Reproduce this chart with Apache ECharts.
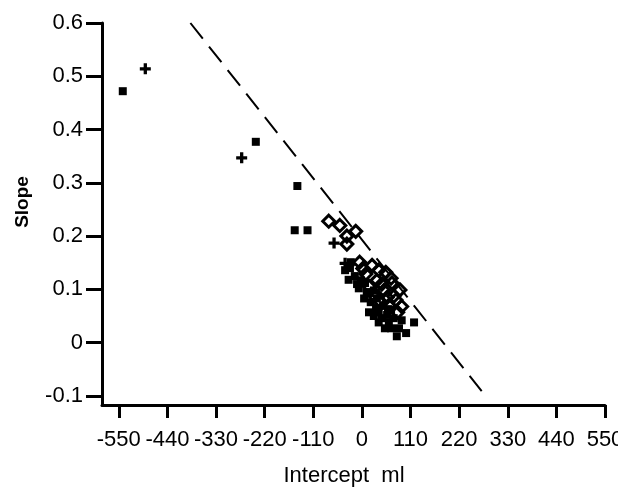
<!DOCTYPE html>
<html>
<head>
<meta charset="utf-8">
<script src="https://cdn.jsdelivr.net/npm/echarts@6/dist/echarts.min.js"></script>
<style>
  html, body { margin: 0; padding: 0; background: #fff; }
  #container { width: 618px; height: 504px; }
</style>
</head>
<body>
<div id="container"></div>
<script>
// tick labels
var xTicks = [-550, -440, -330, -220, -110, 0, 110, 220, 330, 440, 550];
var yTicks = [-0.1, 0, 0.1, 0.2, 0.3, 0.4, 0.5, 0.6];

// filled squares [intercept, slope]
var squarePoints = [
    [-541, 0.472], [-240, 0.377], [-146, 0.294], [-152, 0.211], [-123, 0.211],
    [-38, 0.136], [-27, 0.140], [-25, 0.151], [-30, 0.118], [-16, 0.125], [-2, 0.117],
    [-11, 0.110], [7, 0.112], [-7, 0.102], [11, 0.095], [18, 0.093], [27, 0.098],
    [5, 0.083], [34, 0.083], [20, 0.076], [48, 0.069], [32, 0.065], [59, 0.063],
    [16, 0.057], [38, 0.057], [27, 0.050], [45, 0.046], [57, 0.052], [66, 0.061],
    [72, 0.046], [38, 0.038], [61, 0.038], [52, 0.027], [66, 0.027], [79, 0.012],
    [84, 0.027], [90, 0.042], [100, 0.018], [118, 0.038]
];
// plus signs
var plusPoints = [
    [-490, 0.514], [-272, 0.347], [-63, 0.187], [-38, 0.149]
];
// open diamonds
var diamondPoints = [
    [-75, 0.228], [-50, 0.220], [-34, 0.200], [-34, 0.185], [-14, 0.209],
    [-5, 0.151], [2, 0.139], [23, 0.145], [38, 0.136], [54, 0.132], [9, 0.129],
    [34, 0.117], [66, 0.121], [45, 0.110], [68, 0.112], [86, 0.099], [16, 0.106],
    [50, 0.098], [72, 0.087], [57, 0.085], [77, 0.080], [38, 0.080], [61, 0.070],
    [90, 0.068], [27, 0.089], [81, 0.057], [50, 0.057]
];
// dashed reference line
var refLine = [[-388, 0.6], [271, -0.091]];

var font = 'Liberation Sans, Arial, sans-serif';
var myChart = echarts.init(document.getElementById('container'));

var option = {
    backgroundColor: '#fff',
    animation: false,
    grid: {
        left: 102,
        right: 13,
        top: 23,
        bottom: 99,
        containLabel: false,
        outerBoundsMode: 'none'
    },
    xAxis: {
        type: 'value',
        min: -588,
        max: 550,
        splitLine: { show: false },
        axisLine: { onZero: false, lineStyle: { color: '#000', width: 3 } },
        axisTick: { customValues: xTicks, length: 13, lineStyle: { color: '#000', width: 3 } },
        axisLabel: {
            customValues: xTicks,
            margin: 24,
            color: '#000',
            fontFamily: font,
            fontSize: 22
        }
    },
    yAxis: {
        type: 'value',
        min: -0.117,
        max: 0.6,
        splitLine: { show: false },
        axisLine: { onZero: false, lineStyle: { color: '#000', width: 3 } },
        axisTick: { customValues: yTicks, length: 16, lineStyle: { color: '#000', width: 3 } },
        axisLabel: {
            customValues: yTicks,
            margin: 19,
            color: '#000',
            fontFamily: font,
            fontSize: 22,
            formatter: function (v) { return String(Math.round(v * 10) / 10); }
        }
    },
    graphic: [
        {
            type: 'text',
            x: 344,
            y: 476,
            style: {
                text: 'Intercept  ml',
                fontFamily: font,
                fontSize: 22,
                fill: '#000',
                textAlign: 'center',
                textVerticalAlign: 'middle'
            }
        },
        {
            type: 'text',
            x: 23,
            y: 202,
            rotation: Math.PI / 2,
            style: {
                text: 'Slope',
                fontFamily: font,
                fontSize: 19,
                fontWeight: 'bold',
                fill: '#000',
                textAlign: 'center',
                textVerticalAlign: 'middle'
            }
        }
    ],
    series: [
        {
            name: 'line',
            type: 'line',
            data: refLine,
            symbol: 'none',
            silent: true,
            lineStyle: { color: '#000', width: 2, type: [20, 10] },
            z: 1
        },
        {
            name: 'squares',
            type: 'scatter',
            data: squarePoints,
            symbol: 'rect',
            symbolSize: 8,
            itemStyle: { color: '#000', opacity: 1 },
            z: 2
        },
        {
            name: 'diamonds',
            type: 'scatter',
            data: diamondPoints,
            symbol: 'diamond',
            symbolSize: 12,
            itemStyle: { color: 'rgba(0,0,0,0)', borderColor: '#000', borderWidth: 3, opacity: 1 },
            z: 3
        },
        {
            name: 'plus',
            type: 'scatter',
            data: plusPoints,
            symbol: 'path://M0,3.5h10v3h-10z M3.5,0h3v10h-3z',
            symbolSize: 11,
            itemStyle: { color: '#000', opacity: 1 },
            z: 4
        }
    ]
};
myChart.setOption(option);
</script>
</body>
</html>
